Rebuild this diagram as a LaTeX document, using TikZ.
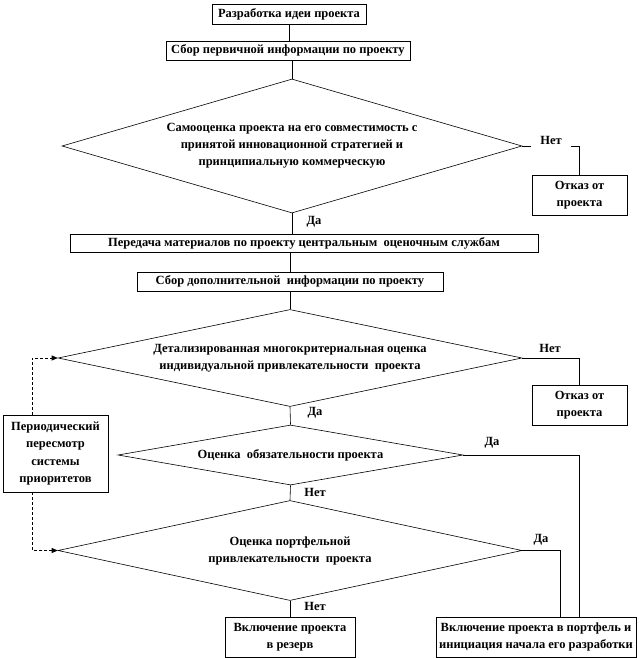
\documentclass[tikz,border=0pt]{standalone}
\usepackage{fontspec}
\setmainfont{Liberation Serif}
\usetikzlibrary{shapes.geometric,arrows.meta}

\tikzset{
  stage/.style={draw, line width=0.6pt, align=center, inner sep=1pt,
    font=\bfseries\fontsize{12.5}{17.5}\selectfont},
  decision/.style={draw, diamond, line width=0.6pt, align=center, inner sep=0pt,
    font=\bfseries\fontsize{12.5}{17}\selectfont},
  answer/.style={inner sep=1pt, font=\bfseries\fontsize{12.5}{14}\selectfont},
  flow/.style={line width=0.6pt},
  review/.style={line width=0.6pt, dash pattern=on 3pt off 2pt,
    -{Triangle[length=6pt,width=5pt]}}
}

\begin{document}
\begin{tikzpicture}[x=1pt,y=-1pt]
    \useasboundingbox (0,0) rectangle (640,658);

    % Idee und erste Informationen
    \node[stage, minimum width=154pt, minimum height=20pt] (idea) at (289,14) {Разработка идеи проекта};
    \node[stage, minimum width=244pt, minimum height=19pt] (firstinfo) at (288,50.5) {Сбор первичной информации по проекту};

    % Selbstbewertung
    \node[decision, minimum width=460pt, minimum height=134pt, aspect=3.43] (selfcheck) at (292,146)
      {Самооценка проекта на его совместимость с\\ принятой инновационной стратегией и\\ принципиальную коммерческую};
    \node[stage, minimum width=95pt, minimum height=40pt] (reject1) at (579.5,195) {Отказ от\\ проекта};

    % Weitergabe
    \node[stage, minimum width=468pt, minimum height=18pt] (transfer) at (304,243) {Передача материалов по проекту центральным\ \ оценочным службам};
    \node[stage, minimum width=306pt, minimum height=19pt] (moreinfo) at (290,281.5) {Сбор дополнительной\ \ информации по проекту};

    % Detaillierte Bewertung
    \node[decision, minimum width=464pt, minimum height=97pt, aspect=4.78] (detail) at (290,358)
      {Детализированная многокритериальная оценка\\ индивидуальной привлекательности\ \ проекта};
    \node[stage, minimum width=95pt, minimum height=40pt] (reject2) at (579.5,405) {Отказ от\\ проекта};

    % Verbindlichkeit und Portfolio
    \node[decision, minimum width=345pt, minimum height=60pt, aspect=5.75] (mandatory) at (290.5,455)
      {Оценка\ \ обязательности проекта};
    \node[decision, minimum width=464pt, minimum height=100pt, aspect=4.64] (portfolio) at (290,550.5)
      {Оценка портфельной\\ привлекательности\ \ проекта};

    % Ergebnisse
    \node[stage, minimum width=130pt, minimum height=40pt] (reserve) at (290,637) {Включение проекта\\ в резерв};
    \node[stage, minimum width=200pt, minimum height=40pt] (include) at (536,637) {Включение проекта в портфель и\\ инициация начала его разработки};

    % Prioritaeten
    \node[stage, minimum width=105pt, minimum height=77pt] (priorities) at (55.5,453.5)
      {Периодический\\ пересмотр\\ системы\\ приоритетов};
    \coordinate (loop) at (32,453.5);
    \coordinate (bend) at (560,550.5);

    % Hauptlinie
    \draw[flow] (idea.south) -- (idea.south |- firstinfo.north);
    \draw[flow] (firstinfo.south -| selfcheck.north) -- (selfcheck.north);
    \draw[flow] (selfcheck.south) -- (selfcheck.south |- transfer.north);
    \draw[flow] (transfer.south -| moreinfo.north) -- (moreinfo.north);
    \draw[flow] (moreinfo.south -| detail.north) -- (detail.north);
    \draw[flow] (detail.south) -- (mandatory.north);
    \draw[flow] (mandatory.south) -- (portfolio.north);
    \draw[flow] (portfolio.south) -- (reserve.north);

    % Abzweigungen
    \draw[flow] (selfcheck.east) -| (reject1.north);
    \draw[flow] (detail.east) -| (reject2.north);
    \draw[flow] (mandatory.east) -| (reject2.south |- include.north);
    \draw[flow] (portfolio.east) -- (bend) -- (bend |- include.north);

    % Rueckkopplung
    \draw[review] (loop |- priorities.north) |- (detail.west);
    \draw[review] (loop |- priorities.south) |- (portfolio.west);

    % Antworten
    \node[answer, fill=white, minimum height=22pt, inner xsep=9pt] (no1) at (551,140) {Нет};
    \node[answer] (yes1) at (314,222) {Да};
    \node[answer] (no2) at (550,348) {Нет};
    \node[answer] (yes2) at (315,413) {Да};
    \node[answer] (yes3) at (492,443) {Да};
    \node[answer] (no3) at (315,492) {Нет};
    \node[answer] (yes4) at (541,540) {Да};
    \node[answer] (no4) at (315,606) {Нет};
\end{tikzpicture}
\end{document}
